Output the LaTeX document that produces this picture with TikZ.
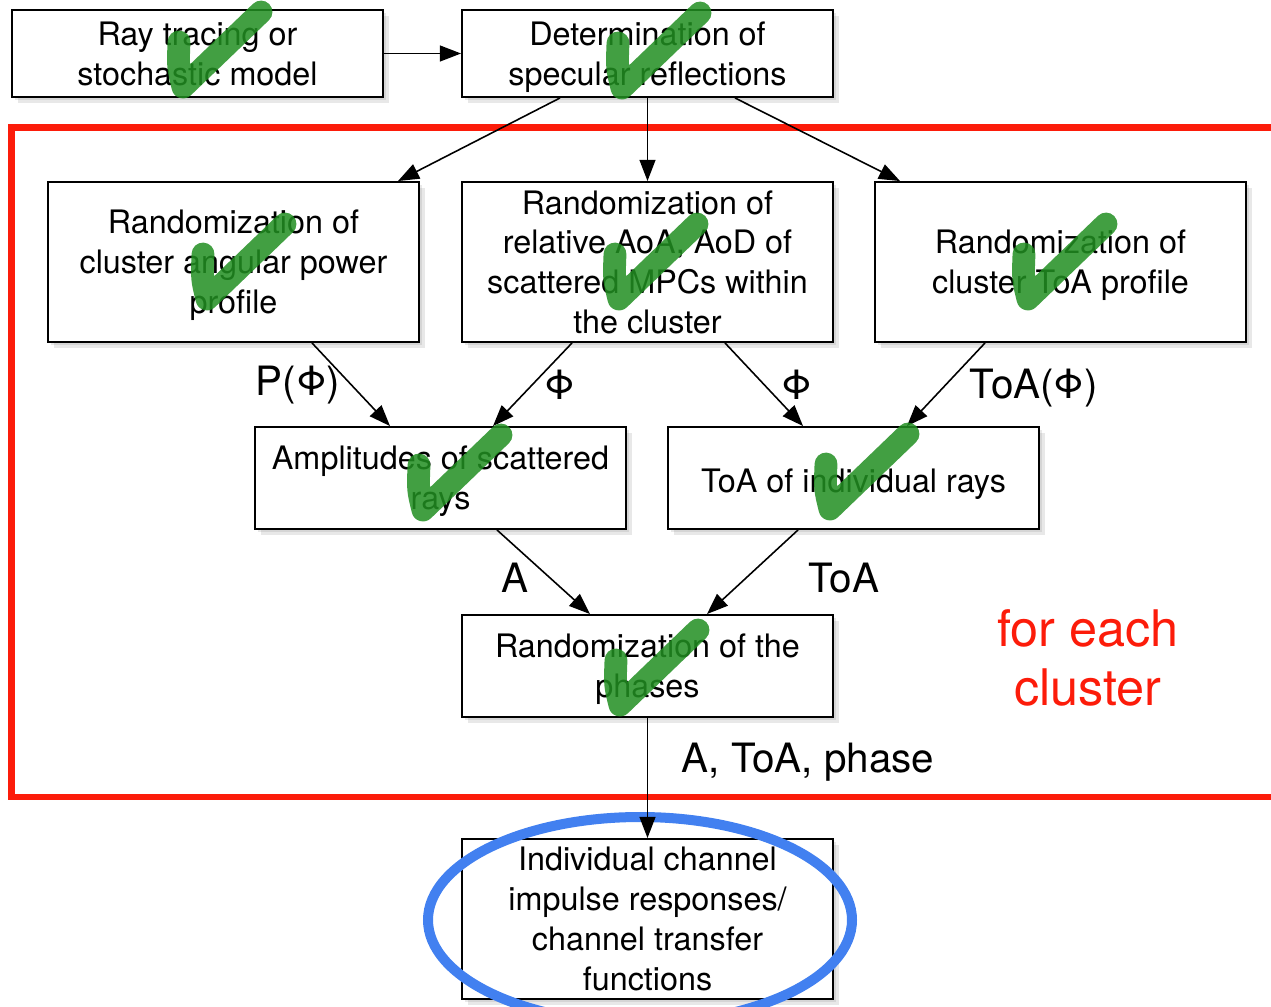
\documentclass[tikz,border=0pt]{standalone}
\usepackage{fontspec}
\setmainfont{TeX Gyre Heros}
\usetikzlibrary{positioning,arrows.meta,shadows}
\definecolor{cred}{RGB}{252,28,10}
\definecolor{cblue}{RGB}{66,128,240}
\definecolor{cgreen}{RGB}{34,143,34}
\tikzset{
  blk/.style={draw,fill=white,line width=1.1pt,align=center,inner sep=2pt,
    minimum width=7.42cm,font=\fontsize{18.4}{22.7}\selectfont,
    text depth=0pt,execute at begin node={\rule{0pt}{16pt}},
    drop shadow={opacity=0.18,shadow xshift=1.8pt,shadow yshift=-1.8pt},
    drop shadow={opacity=0.18,shadow xshift=3.6pt,shadow yshift=-3.6pt}},
  flow/.style={-{Triangle[length=12pt,width=9pt]},line width=0.9pt},
  lbl/.style={font=\fontsize{23}{27}\selectfont},
  loop/.style={draw=cred,line width=3.8pt},       % the "for each cluster" frame
  ring/.style={draw=cblue,line width=5.7pt},      % blue highlight
  chk/.style={draw=cgreen,line width=13pt,line cap=round,line join=round,opacity=0.85},
  okmark/.pic={\draw[chk] (-4,-45) .. controls (-5,-20) .. (0,0) -- (78,-75);}, % green tick
}

\begin{document}
\begin{tikzpicture}[x=0.02cm,y=-0.02cm]
  \clip (0,0) rectangle (1271,1007);
  % frame
  \draw[loop] (11.5,127.5) rectangle (1300,797);
  \node[text=cred,align=center,font=\fontsize{28.7}{34}\selectfont] (each) at (1088,658) {for each\\cluster};
  % boxes
  \node[blk,minimum height=1.74cm] (ray) at (197.5,53.5) {Ray tracing or\\stochastic model};
  \node[blk,minimum height=1.74cm] (spec) at (647.5,53.5) {Determination of\\specular reflections};
  \node[blk,minimum height=3.2cm] (apow) at (233.5,262) {Randomization of\\cluster angular power\\profile};
  \node[blk,minimum height=3.2cm] (aoa) at (647.5,262) {Randomization of\\relative AoA, AoD of\\scattered MPCs within\\the cluster};
  \node[blk,minimum height=3.2cm] (ctoa) at (1060.5,262) {Randomization of\\cluster ToA profile};
  \node[blk,minimum height=2.04cm] (amp) at (440.5,478) {Amplitudes of scattered\\rays};
  \node[blk,minimum height=2.04cm] (rtoa) at (853.5,478) {ToA of individual rays};
  \node[blk,minimum height=2.04cm] (phs) at (647.5,666) {Randomization of the\\phases};
  \node[blk,minimum height=3.2cm] (cir) at (647.5,919) {Individual channel\\impulse responses/\\channel transfer\\functions};
  % arrows
  \draw[flow] (ray) -- (spec);
  \draw[flow] ([xshift=-1.75cm]spec.south) -- ([xshift=3.29cm]apow.north);
  \draw[flow] (spec) -- (aoa);
  \draw[flow] ([xshift=1.75cm]spec.south) -- ([xshift=-3.21cm]ctoa.north);
  \draw[flow] ([xshift=1.57cm]apow.south) -- ([xshift=-1.01cm]amp.north);
  \draw[flow] ([xshift=-1.51cm]aoa.south) -- ([xshift=1.05cm]amp.north);
  \draw[flow] ([xshift=1.55cm]aoa.south) -- ([xshift=-1.01cm]rtoa.north);
  \draw[flow] ([xshift=-1.51cm]ctoa.south) -- ([xshift=1.07cm]rtoa.north);
  \draw[flow] ([xshift=1.13cm]amp.south) -- ([xshift=-1.15cm]phs.north);
  \draw[flow] ([xshift=-1.11cm]rtoa.south) -- ([xshift=1.19cm]phs.north);
  \draw[ring] (640,920) ellipse [x radius=212,y radius=103];
  \draw[flow] (phs) -- (cir);
  % labels
  \node[lbl] (lpp) at (298,385) {P(Φ)};
  \node[lbl] (lp1) at (560,385) {Φ};
  \node[lbl] (lp2) at (797,385) {Φ};
  \node[lbl] (ltp) at (1034,388) {ToA(Φ)};
  \node[lbl] (la) at (515,578) {A};
  \node[lbl] (lt) at (844,578) {ToA};
  \node[lbl] (lall) at (808,762) {A, ToA, phase};
  % ticks
  \foreach \p in {(183,87),(622,88),(207,299),(619,299),(1028,299),(423,510),(830,509),(620,705)}
    \pic at \p {okmark};
\end{tikzpicture}
\end{document}
